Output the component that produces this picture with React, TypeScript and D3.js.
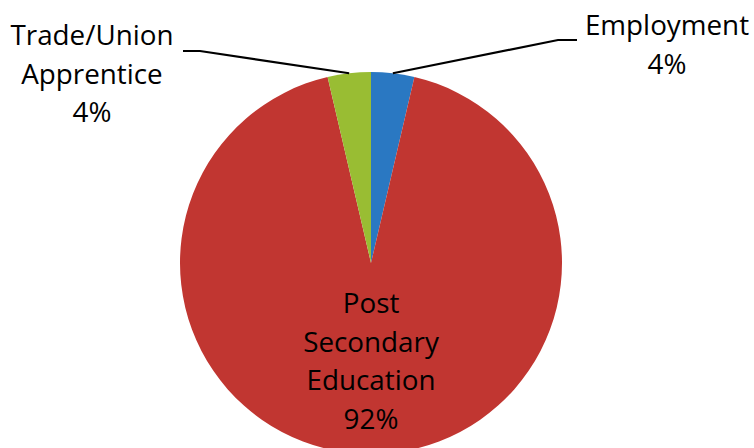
import { useEffect, useRef } from 'react';
import * as d3 from 'd3';

const categories = ['Employment', 'Post Secondary Education', 'Trade/Union Apprentice'];
const shares = [3.65, 92.7, 3.65];
const percentLabels = ['4%', '92%', '4%'];
const colors = ['#2a78c2', '#c13631', '#99bd33'];

// label lines as drawn in the chart
const labelLines = [['Employment'], ['Post', 'Secondary', 'Education'], ['Trade/Union', 'Apprentice']];

const App = () => {
  const ref = useRef(null);

  useEffect(() => {
    const width = 754;
    const height = 448;
    const cx = 371;
    const cy = 263;
    const r = 191;
    const lineH = 38.5;

    const svg = d3.select(ref.current).attr('width', width).attr('height', height);
    svg.selectAll('*').remove();

    const pie = d3.pie().sort(null).value((d) => d.value);
    const arcs = pie(categories.map((c, i) => ({ name: c, value: shares[i], i })));

    const arc = d3.arc().innerRadius(0).outerRadius(r);

    const g = svg.append('g').attr('transform', `translate(${cx},${cy})`);

    g.selectAll('.slice')
      .data(arcs)
      .join('path')
      .attr('class', 'slice')
      .attr('d', arc)
      .attr('fill', (d) => colors[d.data.i]);

    const mid = (d) => (d.startAngle + d.endAngle) / 2;
    const onArc = (d) => [r * Math.sin(mid(d)), -r * Math.cos(mid(d))];

    // leader lines for the two small slices
    const leaders = [
      { i: 0, bend: [558 - cx, 40 - cy], end: [577 - cx, 40 - cy] },
      { i: 2, bend: [200 - cx, 51 - cy], end: [183 - cx, 51 - cy] },
    ];
    leaders.forEach((l) => {
      const p = onArc(arcs[l.i]);
      g.append('path')
        .attr('d', d3.line()([p, l.bend, l.end]))
        .attr('fill', 'none')
        .attr('stroke', '#000')
        .attr('stroke-width', 2.2);
    });

    const labelPos = [
      { x: 667, y: 35 },
      { x: cx, y: 313 },
      { x: 92, y: 45 },
    ];

    labelPos.forEach((pos, i) => {
      const lines = [...labelLines[i], percentLabels[i]];
      const t = svg
        .append('text')
        .attr('text-anchor', 'middle')
        .attr('font-family', '"Open Sans", sans-serif')
        .attr('font-size', 27.8)
        .attr('fill', '#000');
      lines.forEach((s, k) => {
        t.append('tspan')
          .attr('x', pos.x)
          .attr('y', pos.y + k * lineH)
          .text(s);
      });
    });
  }, []);

  return (
    <div style={{ position: 'absolute', left: 0, top: 0 }}>
      <svg ref={ref} style={{ display: 'block' }}></svg>
    </div>
  );
};

export default App;
